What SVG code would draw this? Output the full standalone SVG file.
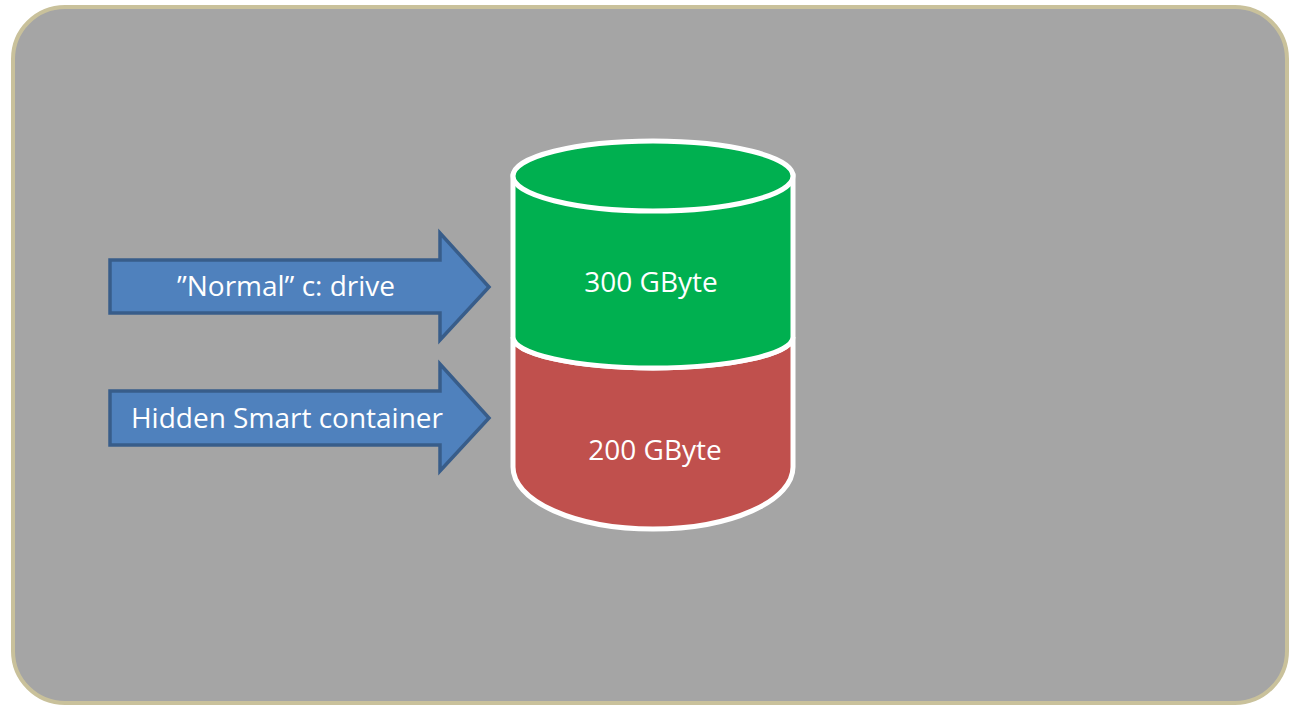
<svg xmlns="http://www.w3.org/2000/svg" width="1289" height="707" viewBox="0 0 1289 707">
<style>
.lbl{font-family:"Open Sans","Liberation Sans",sans-serif;font-size:28px;fill:#ffffff;text-anchor:middle}
.arrow{fill:#4f81bd;stroke:#385d8a;stroke-width:3.5;stroke-linejoin:miter}
.cyl{stroke:#ffffff;stroke-width:5}
</style>
<rect width="1289" height="707" fill="#ffffff"/>
<rect id="panel" x="13" y="7" width="1274" height="696" rx="52" ry="52" fill="#a5a5a5" stroke="#c9c19b" stroke-width="4"/>
<g id="arrow-normal">
<path class="arrow" d="M110,260 L440,260 L440,233 L489,287 L440,340 L440,313 L110,313 Z"/>
<text class="lbl" x="286" y="296">”Normal” c: drive</text>
</g>
<g id="arrow-hidden">
<path class="arrow" d="M110,391 L440,391 L440,364 L489,418 L440,471 L440,445 L110,445 Z"/>
<text class="lbl" x="287" y="428">Hidden Smart container</text>
</g>
<g id="cylinder">
<path class="cyl" fill="#c0504d" d="M513,337 A140,31 0 0 0 793,337 L793,467 A140,62 0 0 1 513,467 Z"/>
<path class="cyl" fill="#00b050" d="M513,176 L513,337 A140,31 0 0 0 793,337 L793,176 Z"/>
<ellipse class="cyl" fill="#00b050" cx="653" cy="176" rx="140" ry="35"/>
<text class="lbl" x="651" y="292">300 GByte</text>
<text class="lbl" x="655" y="460">200 GByte</text>
</g>
<g id="connectors"></g>
</svg>
